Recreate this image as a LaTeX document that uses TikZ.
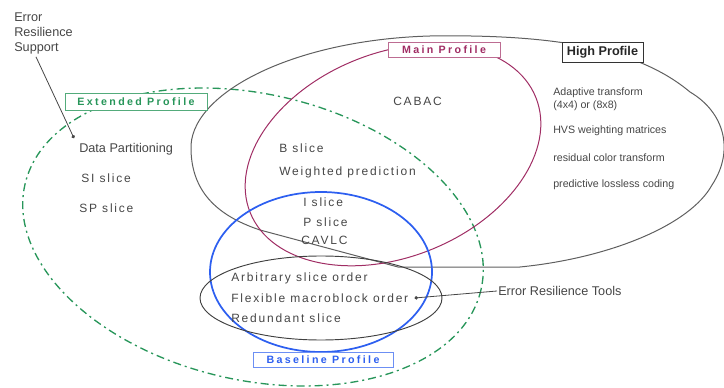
\documentclass[tikz,border=0pt]{standalone}
\usepackage{fontspec}
\setmainfont{Liberation Sans}
\usepackage{tikz}
\usetikzlibrary{arrows.meta,calc}

\definecolor{extgreen}{RGB}{40,150,90}
\definecolor{mainmag}{RGB}{160,45,100}
\definecolor{baseblue}{RGB}{45,95,240}
\definecolor{txtgray}{RGB}{70,70,70}
\definecolor{highgray}{RGB}{95,95,95}

\tikzset{
  lbl/.style={anchor=west, inner sep=0.75pt, text=txtgray, text height=6.4pt, text depth=0pt,
    font=\fontsize{9}{11}\selectfont\addfontfeature{LetterSpace=15}},
  plainlbl/.style={anchor=west, inner sep=0.75pt, text=txtgray, text height=6.8pt, text depth=0pt,
    font=\fontsize{9.5}{11.25}\selectfont},
  smalllbl/.style={anchor=west, inner sep=0.75pt, text=txtgray, text height=5.7pt, text depth=0pt,
    font=\fontsize{8}{9.75}\selectfont},
  profbox/.style={draw, fill=white, inner sep=0pt, line width=0.6pt,
    font=\bfseries\fontsize{8}{10}\selectfont\addfontfeature{LetterSpace=22}},
  extcurve/.style={draw=extgreen, line width=1pt, dash pattern=on 6pt off 3pt on 1.5pt off 3pt},
  maincurve/.style={draw=mainmag, line width=0.75pt},
  basecurve/.style={draw=baseblue, line width=1.3pt},
  highcurve/.style={draw=highgray, line width=0.75pt},
  ertcurve/.style={draw=black!75, line width=0.7pt},
  pointer/.style={draw=txtgray, line width=0.6pt, -{Circle[length=2.6pt]}},
}

\begin{document}
\begin{tikzpicture}[x=0.75pt,y=0.75pt,yscale=-1,xscale=1]
\useasboundingbox (0,0) rectangle (724,388);

%Shape: Ellipse (Extended Profile)
\draw [extcurve, rotate around={13:(253,237)}] (253,237) ellipse [x radius=234, y radius=143];
%Shape: Closed Curve (High Profile)
\draw [highcurve] (191,150) .. controls (188,95) and (290,40) .. (430,36)
  .. controls (560,34) and (640,50) .. (690,92)
  .. controls (724,112) and (735,150) .. (712,185)
  .. controls (690,225) and (610,258) .. (520,267) -- (398,267) -- (260,230)
  .. controls (215,215) and (192,190) .. (191,150) -- cycle;
%Shape: Ellipse (Main Profile)
\draw [maincurve, rotate around={-22:(393,155)}] (393,155) ellipse [x radius=154, y radius=102];
%Shape: Ellipse (Baseline Profile)
\draw [basecurve] (321,272) ellipse [x radius=111, y radius=80];
%Shape: Ellipse (Error Resilience Tools)
\draw [ertcurve] (321,298) ellipse [x radius=121, y radius=42];

% Profile Boxes
\draw (136,101.5) node [profbox, draw=extgreen!80, text=extgreen, minimum width=106.5pt, minimum height=12.75pt] (extlbl) {Extended Profile};
\draw (444,50) node [profbox, draw=mainmag!70, text=mainmag, minimum width=84pt, minimum height=11.25pt] (mainlbl) {Main Profile};
\draw (602.5,52) node [profbox, draw=black!80, text=black!85, minimum width=60.75pt, minimum height=15pt,
  font=\bfseries\fontsize{9.5}{11}\selectfont] (highlbl) {High Profile};
\draw (323,359.5) node [profbox, draw=baseblue!70, text=baseblue, minimum width=105pt, minimum height=11.25pt] (baselbl) {Baseline Profile};

% Text Node
\draw (13,12) node [anchor=north west, inner sep=0.75pt, align=left, text=txtgray, font=\fontsize{9.5}{11.25}\selectfont] (support) {Error\\Resilience\\Support};
% Text Node
\draw (78,148) node [plainlbl] (dpart) {Data Partitioning};
\draw (80,178) node [lbl] (sislice) {SI slice};
\draw (78,208) node [lbl] (spslice) {SP slice};
% Text Node
\draw (392,101) node [lbl] (cabac) {CABAC};
\draw (278,148) node [lbl] (bslice) {B slice};
\draw (278,171) node [lbl] (wpred) {Weighted prediction};
% Text Node
\draw (302,202) node [lbl] (islice) {I slice};
\draw (302,222) node [lbl] (pslice) {P slice};
\draw (300,240) node [lbl] (cavlc) {CAVLC};
% Text Node
\draw (230,277) node [lbl] (aso) {Arbitrary slice order};
\draw (230,298) node [lbl] (fmo) {Flexible macroblock order};
\draw (230,318) node [lbl] (redund) {Redundant slice};
% Text Node
\draw (552,92) node [smalllbl] (adapt) {Adaptive transform};
\draw (552,105) node [smalllbl] (adaptsz) {(4x4) or (8x8)};
\draw (552,130) node [smalllbl] (hvs) {HVS weighting matrices};
\draw (552,158) node [smalllbl] (rct) {residual color transform};
\draw (552,184) node [smalllbl] (plc) {predictive lossless coding};
% Text Node
\draw (497,291) node [plainlbl] (ert) {Error Resilience Tools};

%Straight Lines
\draw [pointer] ($(support.south west)+(23,1)$) -- ($(dpart.north west)+(-4,-4)$);
\draw [pointer] (ert.west) -- ($(fmo.east)+(5,0)$);

\end{tikzpicture}
\end{document}
